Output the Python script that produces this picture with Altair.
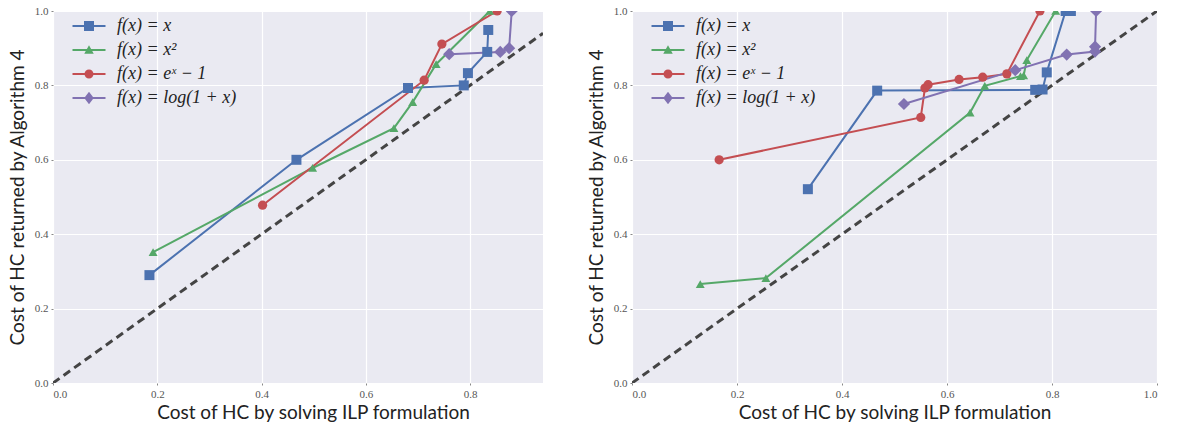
import altair as alt
import pandas as pd

SERIES = ["f(x) = x", "f(x) = x²", "f(x) = eˣ − 1", "f(x) = log(1 + x)"]
COLORS = ["#4C72B0", "#55A868", "#C44E52", "#8172B2"]
SHAPES = ["square", "triangle-up", "circle", "diamond"]
SIZES = [100, 80, 85, 150]

# Left panel
L_lin_x = [0.185, 0.467, 0.681, 0.788, 0.796, 0.833, 0.835]
L_lin_y = [0.290, 0.600, 0.793, 0.800, 0.833, 0.890, 0.949]
L_sq_x = [0.192, 0.498, 0.654, 0.690, 0.735, 0.838]
L_sq_y = [0.352, 0.578, 0.685, 0.755, 0.857, 1.000]
L_exp_x = [0.402, 0.712, 0.746, 0.852]
L_exp_y = [0.478, 0.814, 0.911, 1.000]
L_log_x = [0.760, 0.858, 0.875, 0.880]
L_log_y = [0.884, 0.890, 0.900, 1.000]

# Right panel
R_lin_x = [0.335, 0.467, 0.768, 0.782, 0.790, 0.826, 0.836]
R_lin_y = [0.521, 0.786, 0.788, 0.789, 0.835, 1.000, 1.000]
R_sq_x = [0.130, 0.255, 0.644, 0.672, 0.740, 0.746, 0.752, 0.807]
R_sq_y = [0.266, 0.282, 0.727, 0.799, 0.825, 0.827, 0.868, 1.000]
R_exp_x = [0.166, 0.550, 0.558, 0.564, 0.623, 0.668, 0.714, 0.777]
R_exp_y = [0.600, 0.714, 0.793, 0.802, 0.816, 0.822, 0.831, 1.000]
R_log_x = [0.518, 0.730, 0.828, 0.882, 0.882, 0.884]
R_log_y = [0.750, 0.841, 0.883, 0.891, 0.904, 1.000]

DIAG_L = [0.0, 0.94]
DIAG_R = [0.0, 1.0]
X_MAX_L = 0.94
X_MAX_R = 1.0
TICKS = [0.0, 0.2, 0.4, 0.6, 0.8, 1.0]

# legend symbols: line + marker (custom paths in unit box)
LINE = "M-3.3,-0.2L3.3,-0.2L3.3,0.2L-3.3,0.2Z"
LEG_PATHS = [
    LINE + "M-1,-1L1,-1L1,1L-1,1Z",
    LINE + "M0,-0.95L0.95,0.75L-0.95,0.75Z",
    LINE + "M0.9,0A0.9,0.9 0 1,1 -0.9,0A0.9,0.9 0 1,1 0.9,0Z",
    LINE + "M0,-1.25L0.95,0L0,1.25L-0.95,0Z",
]


def build(sets):
    rows = []
    for name, xs, ys in sets:
        for i, (a, b) in enumerate(zip(xs, ys)):
            rows.append({"series": name, "idx": i, "x": a, "y": b})
    return pd.DataFrame(rows)


def panel(df, diag, xmax, xticks, title_x=None):
    dd = pd.DataFrame({"x": diag, "y": diag})
    xs = alt.Scale(domain=[0, xmax], nice=False, zero=False)
    ys = alt.Scale(domain=[0, 1], nice=False)
    xkw = dict(values=xticks, format=".1f", title="Cost of HC by solving ILP formulation")
    if title_x is not None:
        xkw["titleX"] = title_x
    xax = alt.Axis(**xkw)
    yax = alt.Axis(values=TICKS, format=".1f", title="Cost of HC returned by Algorithm 4")
    X = alt.X("x:Q", scale=xs, axis=xax)
    Y = alt.Y("y:Q", scale=ys, axis=yax)

    layers = [
        alt.Chart(dd)
        .mark_line(color="#444444", strokeWidth=3, strokeDash=[8, 5], clip=True)
        .encode(x=X, y=Y)
    ]
    for name, col in zip(SERIES, COLORS):
        layers.append(
            alt.Chart(df)
            .transform_filter(alt.datum.series == name)
            .mark_line(strokeWidth=2, clip=True, color=col)
            .encode(x=X, y=Y, order="idx:Q")
        )
    for name, col, shp, sz in zip(SERIES, COLORS, SHAPES, SIZES):
        layers.append(
            alt.Chart(df)
            .transform_filter(alt.datum.series == name)
            .mark_point(filled=True, opacity=1, clip=True, shape=shp, size=sz, color=col)
            .encode(x=X, y=Y)
        )
    leg = alt.Legend(
        title=None,
        orient="top-left",
        offset=6,
        padding=0,
        symbolOffset=21,
        symbolSize=100,
        symbolStrokeWidth=0,
        labelOffset=19,
        labelFont="Liberation Serif",
        labelFontStyle="italic",
        labelFontSize=18,
        labelColor="#222222",
        rowPadding=6,
    )
    legend_layer = (
        alt.Chart(df)
        .transform_filter("datum.idx < 0")
        .mark_point(filled=True, opacity=1, clip=True)
        .encode(
            x=X,
            y=Y,
            color=alt.Color("series:N", scale=alt.Scale(domain=SERIES, range=COLORS), legend=leg),
            shape=alt.Shape("series:N", scale=alt.Scale(domain=SERIES, range=LEG_PATHS), legend=leg),
        )
    )
    layers.append(legend_layer)
    return alt.layer(*layers)


left_df = build([
    (SERIES[0], L_lin_x, L_lin_y),
    (SERIES[1], L_sq_x, L_sq_y),
    (SERIES[2], L_exp_x, L_exp_y),
    (SERIES[3], L_log_x, L_log_y),
])
right_df = build([
    (SERIES[0], R_lin_x, R_lin_y),
    (SERIES[1], R_sq_x, R_sq_y),
    (SERIES[2], R_exp_x, R_exp_y),
    (SERIES[3], R_log_x, R_log_y),
])

left = panel(left_df, DIAG_L, X_MAX_L, TICKS[:5], title_x=260).properties(width=490, height=372)
right = panel(right_df, DIAG_R, X_MAX_R, TICKS).properties(width=525, height=372)

chart = alt.hconcat(left, right, spacing=44).resolve_scale(
    color="independent", shape="independent"
).configure(
    padding={"left": 8, "top": 5, "right": 5, "bottom": 0},
    background="white",
).configure_view(
    fill="#EAEAF2", stroke=None
).configure_axis(
    grid=True,
    gridColor="white",
    gridWidth=1.2,
    domain=False,
    ticks=True,
    tickSize=2,
    tickColor="#888888",
    labelFont="Liberation Serif",
    labelFontSize=11,
    labelColor="#555555",
    labelPadding=3,
    titleFont="Lato",
    titleFontSize=19,
    titleFontWeight="normal",
    titleColor="#222222",
).configure_axisY(titlePadding=7).configure_axisX(titlePadding=4)

chart.save("out.html", embed_options={"renderer": "svg", "actions": False})
